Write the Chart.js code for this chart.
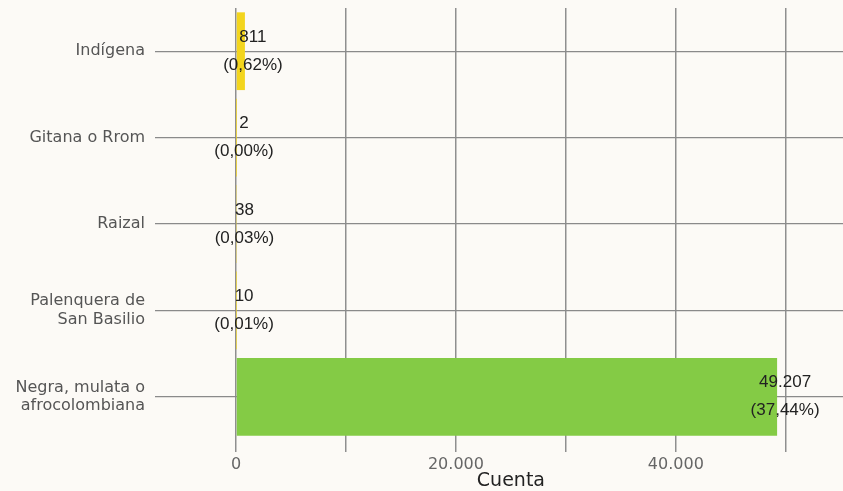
<!DOCTYPE html>
<html>
<head>
<meta charset="utf-8">
<script src="https://cdn.jsdelivr.net/npm/chart.js@4.4.1/dist/chart.umd.min.js"></script>
<style>
  html, body { margin: 0; padding: 0; background: #fcfaf6; }
  canvas { display: block; }
</style>
</head>
<body>
<canvas id="etniaChart" width="843" height="491"></canvas>
<script>
// Data
const categories = [
    ['Indígena'],
    ['Gitana o Rrom'],
    ['Raizal'],
    ['Palenquera de', 'San Basilio'],
    ['Negra, mulata o', 'afrocolombiana']
];
const counts = [811, 2, 38, 10, 49207];
const percents = [0.62, 0.00, 0.03, 0.01, 37.44];
const barColors = ['#f3d51e', '#f3d51e', '#f3d51e', '#f3d51e', '#84cb45'];
const gridValues = [0, 10000, 20000, 30000, 40000, 50000];
const xTickLabels = [0, 20000, 40000];
const axisTitle = 'Cuenta';

const fmtNum = v => v.toLocaleString('de-DE');
const fmtPct = v => '(' + v.toFixed(2).replace('.', ',') + '%)';

// Background fill
const bgPlugin = {
    id: 'bg',
    beforeDraw(chart) {
        const c = chart.ctx;
        c.save();
        c.fillStyle = '#fcfaf6';
        c.fillRect(0, 0, chart.width, chart.height);
        c.restore();
    }
};

// Count + percentage labels at the bar ends, and the axis title
const labelPlugin = {
    id: 'barLabels',
    afterDatasetsDraw(chart) {
        const c = chart.ctx;
        const meta = chart.getDatasetMeta(0);
        c.save();
        c.font = '17px "Liberation Sans", Arial, sans-serif';
        c.fillStyle = '#222';
        c.textAlign = 'center';
        c.textBaseline = 'middle';
        meta.data.forEach((bar, i) => {
            let x = bar.x + 8;
            const w = c.measureText(fmtPct(percents[i])).width;
            if (x + w / 2 > chart.width - 20) x = chart.width - 20 - w / 2;
            c.fillText(fmtNum(counts[i]), x, bar.y - 14);
            c.fillText(fmtPct(percents[i]), x, bar.y + 14);
        });
        const xs = chart.scales.x;
        c.font = '19px "DejaVu Sans", Verdana, sans-serif';
        c.fillStyle = '#222';
        c.fillText(axisTitle, xs.getPixelForValue(25000), 481);
        c.restore();
    }
};

const ctx = document.getElementById('etniaChart').getContext('2d');
const etniaChart = new Chart(ctx, {
    type: 'bar',
    data: {
        labels: categories,
        datasets: [{
            data: counts,
            backgroundColor: barColors,
            borderWidth: 0,
            categoryPercentage: 0.9,
            barPercentage: 1.0
        }]
    },
    options: {
        indexAxis: 'y',
        responsive: false,
        animation: false,
        layout: { padding: { top: 8, right: 0, left: 0, bottom: 0 } },
        plugins: {
            legend: { display: false },
            tooltip: { enabled: false }
        },
        scales: {
            x: {
                min: 0,
                max: 55200,
                afterBuildTicks(scale) { scale.ticks = gridValues.map(v => ({ value: v })); },
                afterFit(scale) { scale.height = 51; scale.paddingLeft = 0; scale.paddingRight = 0; },
                border: { display: false },
                grid: {
                    color: '#8f8f8f',
                    lineWidth: 1.5,
                    tickLength: 12,
                    tickColor: '#8f8f8f'
                },
                ticks: {
                    maxRotation: 0,
                    autoSkip: false,
                    padding: 3,
                    color: '#666',
                    font: { family: '"DejaVu Sans", Verdana, sans-serif', size: 16 },
                    callback: v => xTickLabels.includes(v) ? fmtNum(v) : ''
                }
            },
            y: {
                afterFit(scale) { scale.width = 236; scale.paddingTop = 0; scale.paddingBottom = 0; },
                border: { display: false },
                grid: {
                    offset: false,
                    color: '#8a8a8a',
                    lineWidth: 1.2,
                    tickLength: 81,
                    tickColor: '#8a8a8a'
                },
                ticks: {
                    padding: 10,
                    color: '#555',
                    font: { family: '"DejaVu Sans", Verdana, sans-serif', size: 16, lineHeight: 1.15 }
                }
            }
        }
    },
    plugins: [bgPlugin, labelPlugin]
});
</script>
</body>
</html>
